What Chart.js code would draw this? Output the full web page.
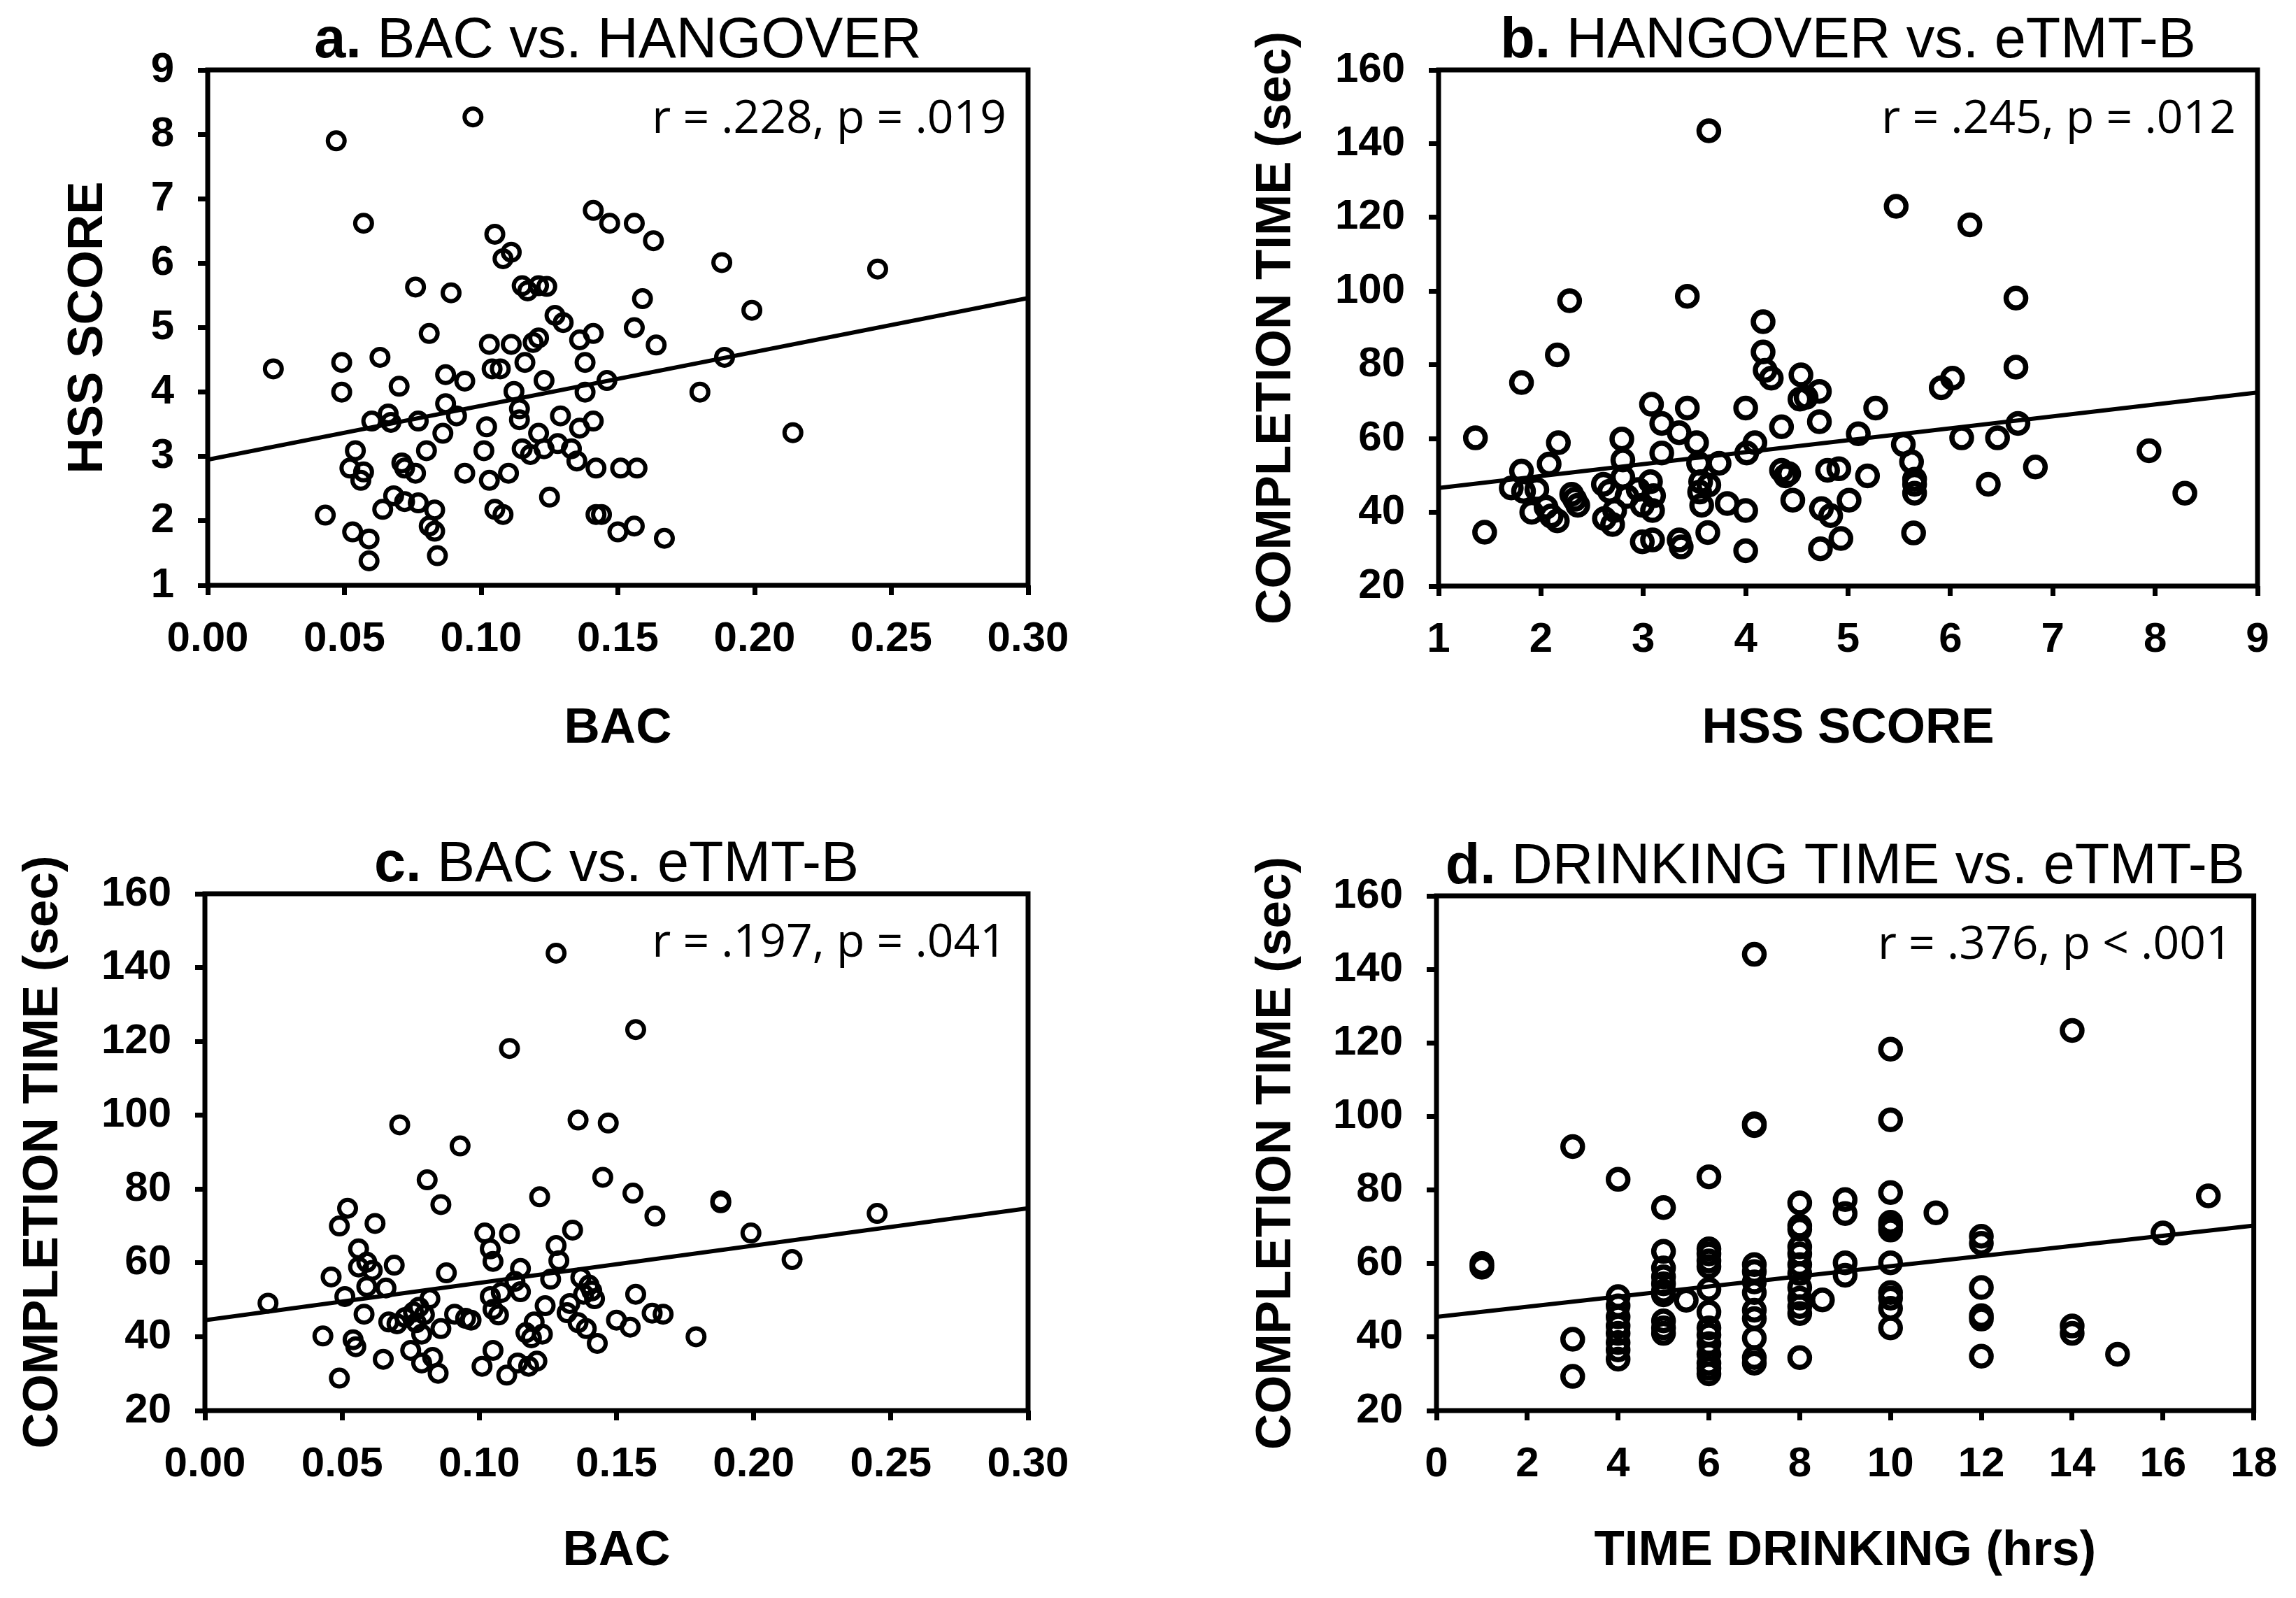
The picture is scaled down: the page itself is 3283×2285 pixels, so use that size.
<!DOCTYPE html>
<html>
<head>
<meta charset="utf-8">
<script src="https://cdn.jsdelivr.net/npm/chart.js@4.4.0/dist/chart.umd.min.js"></script>
<style>
html, body { margin: 0; padding: 0; background: #fff; }
#wrap { position: relative; width: 3283px; height: 2285px; overflow: hidden; background: #fff; }
canvas { position: absolute; }
</style>
</head>
<body>
<div id="wrap">
  <canvas id="chartA" width="1641" height="1142" style="left:0px;top:0px"></canvas>
  <canvas id="chartB" width="1642" height="1142" style="left:1641px;top:0px"></canvas>
  <canvas id="chartC" width="1641" height="1143" style="left:0px;top:1142px"></canvas>
  <canvas id="chartD" width="1642" height="1143" style="left:1641px;top:1142px"></canvas>
</div>
<script>
// a. BAC vs HANGOVER
const aBac = [0.024,0.047,0.097,0.057,0.049,0.049,0.043,0.053,0.059,0.059,
  0.054,0.052,0.057,0.056,0.063,0.060,0.066,0.067,0.064,0.068,
  0.070,0.076,0.071,0.072,0.076,0.072,0.077,0.077,0.081,0.080,
  0.083,0.081,0.083,0.084,0.087,0.087,0.086,0.091,0.089,0.094,
  0.094,0.103,0.104,0.107,0.105,0.111,0.108,0.102,0.101,0.103,
  0.105,0.108,0.110,0.111,0.112,0.114,0.114,0.116,0.115,0.117,
  0.121,0.124,0.119,0.121,0.115,0.118,0.121,0.123,0.123,0.125,
  0.127,0.130,0.129,0.128,0.133,0.135,0.136,0.141,0.136,0.141,
  0.138,0.138,0.146,0.141,0.147,0.156,0.163,0.159,0.156,0.164,
  0.142,0.151,0.157,0.142,0.144,0.150,0.156,0.167,0.180,0.188,
  0.189,0.199,0.214,0.245];
const aHss = [4.36,7.90,8.27,6.62,4.46,4.00,2.09,1.83,1.72,1.38,
  3.09,2.82,2.76,2.63,4.54,3.55,3.66,3.53,2.18,2.39,
  4.09,5.63,2.90,2.82,2.74,2.30,2.28,3.55,4.91,3.09,
  2.17,1.92,1.84,1.46,4.27,3.82,3.36,3.63,5.54,4.17,
  2.74,4.74,4.36,4.36,6.45,6.17,6.07,3.46,3.09,2.63,
  2.18,2.10,2.74,4.74,4.01,3.74,3.57,4.46,5.65,5.57,
  5.65,5.64,4.77,4.84,3.12,3.03,3.36,4.18,3.12,2.37,
  5.19,5.08,3.63,3.20,3.12,2.93,3.44,3.55,4.81,4.91,
  4.46,4.00,4.18,6.82,6.62,6.62,6.35,5.45,5.00,4.73,
  2.82,2.82,2.82,2.10,2.10,1.83,1.92,1.73,4.00,6.01,
  4.54,5.27,3.37,5.91];
const aFitX = [0, 0.30];
const aFitY = [2.95, 5.46];

// b. HANGOVER vs eTMT-B
const bHss = [1.36,1.45,1.81,1.81,1.71,1.83,1.91,1.96,2.08,2.05,
  2.16,2.16,2.17,2.28,2.30,2.36,2.61,2.62,2.70,2.67,
  2.79,2.80,2.80,2.84,2.95,2.99,3.07,3.08,3.09,2.99,
  3.09,3.18,3.18,3.35,3.35,3.37,3.43,3.43,3.52,3.54,
  3.56,3.57,3.63,3.64,3.64,3.74,3.82,4.00,4.00,4.00,
  4.01,4.09,4.17,4.17,4.19,4.25,4.35,4.35,4.39,4.46,
  4.54,4.53,4.59,4.72,4.72,4.74,4.73,4.83,4.80,4.91,
  4.93,5.01,5.10,5.19,5.27,5.47,5.54,5.62,5.65,5.65,
  5.64,5.91,6.02,6.11,6.19,6.37,6.46,6.64,6.64,6.66,
  6.83,7.94,8.29,2.10,2.33,2.72,3.10,3.55,4.42,5.65];
const bTime = [60.2,34.6,75.2,51.2,46.6,45.7,40.0,46.2,53.1,41.4,
  37.7,82.7,58.9,97.4,44.9,41.9,47.6,38.3,36.7,45.7,
  59.9,54.2,49.5,44.3,46.2,41.9,48.3,69.3,40.5,32.0,
  32.5,64.1,56.1,61.6,32.5,30.6,98.6,68.3,58.9,53.3,
  48.3,41.9,34.5,143.5,47.4,53.3,42.4,68.3,40.5,29.6,
  56.1,58.9,91.7,83.5,78.5,76.4,63.2,51.4,49.9,43.3,
  77.3,70.7,71.2,72.8,64.6,41.0,30.1,39.1,51.4,51.8,
  32.9,43.3,61.3,49.9,68.3,123.0,58.4,53.7,47.6,45.2,
  34.4,73.8,76.4,60.2,118.0,47.6,60.2,98.1,79.4,64.1,
  52.3,56.7,45.2,39.0,43.5,40.5,44.5,45.5,50.5,49.0];
const bFitX = [1, 9];
const bFitY = [46.6, 72.5];

// c. BAC vs eTMT-B
const cBac = [0.023,0.049,0.043,0.046,0.049,0.052,0.051,0.054,0.055,0.056,
  0.058,0.056,0.059,0.059,0.062,0.065,0.066,0.067,0.069,0.071,
  0.070,0.073,0.075,0.076,0.077,0.079,0.079,0.081,0.082,0.083,
  0.085,0.086,0.086,0.088,0.091,0.093,0.097,0.101,0.102,0.104,
  0.105,0.104,0.105,0.105,0.107,0.110,0.111,0.111,0.114,0.115,
  0.115,0.117,0.118,0.119,0.121,0.123,0.122,0.124,0.126,0.128,
  0.129,0.128,0.134,0.136,0.136,0.137,0.138,0.139,0.141,0.142,
  0.143,0.145,0.147,0.150,0.156,0.157,0.157,0.155,0.164,0.163,
  0.167,0.179,0.188,0.188,0.199,0.214,0.245,
  0.078,0.080,0.095,0.108,0.113,0.120,0.133,0.140,0.132,0.061];
const cTime = [49.1,28.8,40.2,56.2,70.0,74.8,50.9,39.2,37.3,63.8,
  46.1,58.9,60.2,53.6,70.7,33.9,53.2,44.0,59.4,97.4,
  43.5,45.2,36.3,46.7,43.8,40.7,32.9,82.5,50.3,34.4,
  30.1,75.8,42.2,57.3,46.1,91.7,44.5,32.0,68.1,63.8,
  36.3,50.9,47.4,60.4,45.9,29.6,118.1,67.9,32.9,58.5,
  52.2,41.1,32.0,39.7,33.4,40.7,77.9,48.4,55.6,64.7,
  60.6,143.9,68.9,98.7,43.8,56.0,51.5,42.2,52.4,50.3,
  38.2,83.2,97.9,44.5,78.9,123.2,51.5,42.6,72.7,46.4,
  46.1,40.0,76.3,76.8,68.1,60.9,73.4,
  48.0,46.0,45.0,52.0,55.0,44.0,49.0,54.0,46.5,58.0];
const cFitX = [0, 0.30];
const cFitY = [44.5, 74.8];

// d. DRINKING TIME vs eTMT-B
const dHours = [1,1, 3,3,3, 4,4,4,4,4,4,4,4,4,
  5,5,5,5,5,5,5,5,5,5, 5.5,
  6,6,6,6,6,6,6,6,6,6,6,6,6,6,
  7,7,7,7,7,7,7,7,7,7,7,7,
  8,8,8,8,8,8,8,8,8,8,8,8, 8.5,
  9,9,9,9, 10,10,10,10,10,10,10,10,10,10,10, 11,
  12,12,12,12,12,12, 14,14,14, 15, 16, 17];
const dTime = [59.0,60.0, 91.8,39.4,29.3, 82.9,51.0,48.5,45.5,43.0,41.0,38.5,36.5,34.0,
  75.2,63.3,58.8,56.4,54.5,52.5,51.5,44.4,42.5,41.0, 50.0,
  83.6,64.0,62.6,60.7,59.2,53.0,46.8,42.5,40.6,38.2,35.3,32.9,31.5,30.0,
  144.1,98.0,97.5,59.7,57.8,55.0,52.1,47.3,45.0,39.7,34.4,32.9,
  76.5,70.2,69.3,64.5,62.6,59.7,57.3,53.5,50.6,48.3,46.4,34.4, 50.1,
  77.4,73.6,60.2,56.8, 118.3,99.1,79.3,71.2,70.2,69.1,60.2,52.1,50.6,47.8,42.5, 73.8,
  67.4,65.5,53.5,45.8,44.9,34.8, 123.4,43.0,41.0, 35.3, 68.3, 78.4];
const dFitX = [0, 18];
const dFitY = [45.5, 70.3];

const SANS = "'Liberation Sans', Arial, sans-serif";

// box round the plot area
const framePlugin = {
  id: 'frame',
  afterDatasetsDraw(chart) {
    const a = chart.chartArea, ctx = chart.ctx;
    ctx.save();
    ctx.strokeStyle = '#000';
    ctx.lineWidth = 7;
    ctx.strokeRect(a.left, a.top, a.right - a.left, a.bottom - a.top);
    ctx.restore();
  }
};

// panel heading (bold letter) and r/p note
const panelText = {
  id: 'panelText',
  afterDraw(chart, args, o) {
    if (!o || !o.title) return;
    const a = chart.chartArea, ctx = chart.ctx;
    ctx.save();
    ctx.fillStyle = '#000';
    ctx.textBaseline = 'alphabetic';
    ctx.textAlign = 'left';
    const bold = 'bold 81px ' + SANS, reg = '81px ' + SANS;
    ctx.font = bold;
    const w1 = ctx.measureText(o.tag + ' ').width;
    ctx.font = reg;
    const w2 = ctx.measureText(o.title).width;
    const x = (a.left + a.right) / 2 - (w1 + w2) / 2;
    const y = a.top - 18;
    ctx.font = bold;
    ctx.fillText(o.tag + ' ', x, y);
    ctx.font = reg;
    ctx.fillText(o.title, x + w1, y);
    ctx.font = "66px 'Open Sans', sans-serif";
    ctx.textAlign = 'right';
    ctx.fillText(o.stat, a.right - 31, a.top + 90);
    ctx.restore();
  }
};
Chart.register(panelText);

function panel(id, o) {
  const pts = o.xs.map((x, i) => ({x: x, y: o.ys[i]}));
  const fit = o.fitX.map((x, i) => ({x: x, y: o.fitY[i]}));
  const tickFont = {family: SANS, size: 60, weight: 'bold'};
  const titleFont = {family: SANS, size: 71, weight: 'bold', lineHeight: 1.2};
  const grid = {drawOnChartArea: false, drawTicks: true, tickLength: 14, tickWidth: 7, tickColor: '#000'};
  return new Chart(document.getElementById(id), {
    type: 'scatter',
    data: {
      datasets: [
        {type: 'line', data: fit, showLine: true, borderColor: '#000', borderWidth: 6,
         pointRadius: 0, fill: false, order: 0},
        {data: pts, pointRadius: o.r, pointHoverRadius: o.r, pointBorderWidth: o.bw,
         borderColor: '#000', backgroundColor: 'rgba(0,0,0,0)', order: 1}
      ]
    },
    options: {
      responsive: false,
      animation: false,
      devicePixelRatio: 1,
      events: [],
      layout: {padding: {left: 0, top: o.top, right: o.right, bottom: 0}},
      plugins: {
        legend: {display: false},
        tooltip: {enabled: false},
        panelText: {tag: o.tag, title: o.title, stat: o.stat}
      },
      scales: {
        x: {
          type: 'linear', min: o.xMin, max: o.xMax,
          afterFit: s => { s.height = o.xH; },
          ticks: {stepSize: o.xStep, callback: o.xFmt, font: tickFont, color: '#000',
                  padding: 27, maxRotation: 0, autoSkip: false},
          grid: grid,
          border: {display: false},
          title: {display: true, text: o.xLabel, color: '#000', font: titleFont,
                  padding: {top: 0, bottom: o.xTitlePad}}
        },
        y: {
          type: 'linear', min: o.yMin, max: o.yMax,
          afterFit: s => { s.width = o.yW; },
          ticks: {stepSize: o.yStep, font: tickFont, color: '#000', padding: 34, autoSkip: false},
          grid: grid,
          border: {display: false},
          title: {display: true, text: o.yLabel, color: '#000', font: titleFont,
                  padding: {top: o.yTitlePad, bottom: 0}}
        }
      }
    },
    plugins: [framePlugin]
  });
}

const bacFmt = v => Number(v).toFixed(2);

panel('chartA', {
  xs: aBac, ys: aHss, fitX: aFitX, fitY: aFitY, r: 12, bw: 6,
  tag: 'a.', title: 'BAC vs. HANGOVER', stat: 'r = .228, p = .019',
  top: 100, right: 171, xH: 305, yW: 297, xTitlePad: 57, yTitlePad: 84,
  xMin: 0, xMax: 0.30, xStep: 0.05, xFmt: bacFmt, xLabel: 'BAC',
  yMin: 1, yMax: 9, yStep: 1, yLabel: 'HSS SCORE'
});

panel('chartB', {
  xs: bHss, ys: bTime, fitX: bFitX, fitY: bFitY, r: 14, bw: 7.5,
  tag: 'b.', title: 'HANGOVER vs. eTMT-B', stat: 'r = .245, p = .012',
  top: 100, right: 55, xH: 304, yW: 416, xTitlePad: 57, yTitlePad: 142,
  xMin: 1, xMax: 9, xStep: 1, xFmt: v => v, xLabel: 'HSS SCORE',
  yMin: 20, yMax: 160, yStep: 20, yLabel: 'COMPLETION TIME (sec)'
});

panel('chartC', {
  xs: cBac, ys: cTime, fitX: cFitX, fitY: cFitY, r: 12, bw: 6,
  tag: 'c.', title: 'BAC vs. eTMT-B', stat: 'r = .197, p = .041',
  top: 136, right: 171, xH: 268, yW: 293, xTitlePad: 24, yTitlePad: 20,
  xMin: 0, xMax: 0.30, xStep: 0.05, xFmt: bacFmt, xLabel: 'BAC',
  yMin: 20, yMax: 160, yStep: 20, yLabel: 'COMPLETION TIME (sec)'
});

panel('chartD', {
  xs: dHours, ys: dTime, fitX: dFitX, fitY: dFitY, r: 14, bw: 7.5,
  tag: 'd.', title: 'DRINKING TIME vs. eTMT-B', stat: 'r = .376, p < .001',
  top: 139, right: 55, xH: 268, yW: 413, xTitlePad: 24, yTitlePad: 142,
  xMin: 0, xMax: 18, xStep: 2, xFmt: v => v, xLabel: 'TIME DRINKING (hrs)',
  yMin: 20, yMax: 160, yStep: 20, yLabel: 'COMPLETION TIME (sec)'
});
</script>
</body>
</html>
